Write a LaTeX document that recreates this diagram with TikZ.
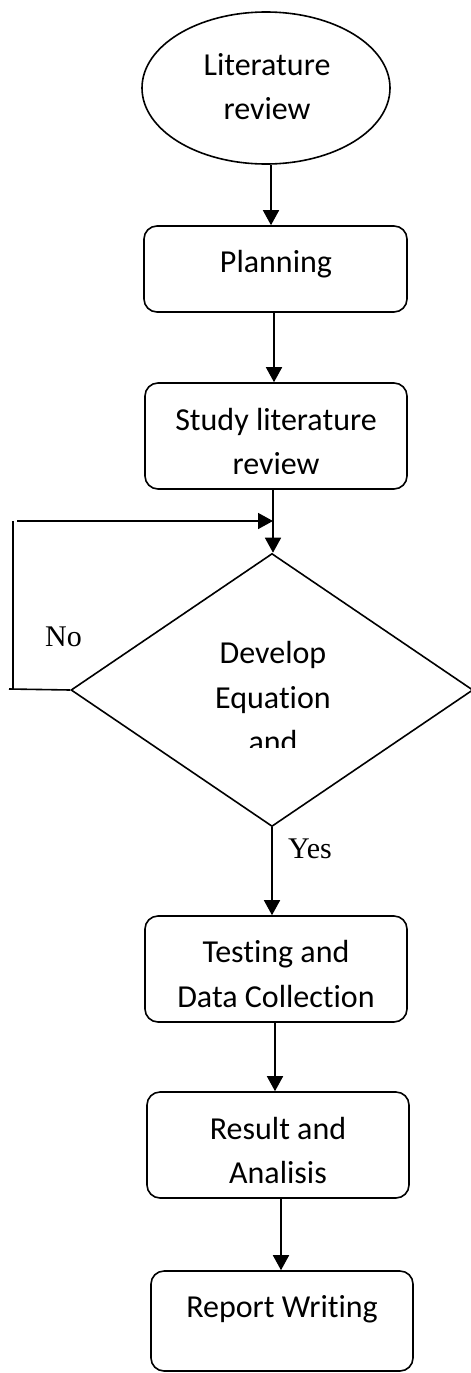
\documentclass[tikz,border=0pt]{standalone}
\usepackage{fontspec}
\setmainfont{Carlito}[Ligatures={NoCommon}]
\newfontfamily\serifl{Liberation Serif}
\usetikzlibrary{shapes.geometric,arrows.meta}
\begin{document}
\begin{tikzpicture}[x=1pt,y=-1pt,
  shp/.style={draw=black,line width=1.6pt,inner sep=0pt},
  rbox/.style={shp,rectangle,rounded corners=13pt},
  txt/.style={anchor=base,inner sep=0pt,font=\fontsize{32}{36}\selectfont},
  lbl/.style={anchor=base west,inner sep=0pt,font=\serifl\fontsize{30}{34}\selectfont},
  arr/.style={line width=1.6pt,-{Triangle[width=16pt,length=15pt]}},
  ln/.style={line width=1.6pt}]
\useasboundingbox (0,0) rectangle (471,1373);
% shapes
\node[shp,ellipse,minimum width=248pt,minimum height=152pt] (lit) at (266,88) {};
\node[rbox,minimum width=263pt,minimum height=86pt] (plan) at (275.5,269) {};
\node[rbox,minimum width=262pt,minimum height=106pt] (study) at (276,436) {};
\node[shp,diamond,minimum width=402pt,minimum height=273pt] (dia) at (272,690) {};
\node[rbox,minimum width=262pt,minimum height=106pt] (test) at (276,969) {};
\node[rbox,minimum width=262pt,minimum height=106pt] (res) at (278,1145) {};
\node[rbox,minimum width=262pt,minimum height=100pt] (rep) at (282,1321) {};
% texts
\node[txt] (t1) at (267,75) {Literature};
\node[txt] (t2) at (267,119) {review};
\node[txt] (t3) at (276,272) {Planning};
\node[txt] (t4) at (276,430) {Study literature};
\begin{scope}
\clip (0,0) rectangle (471,473);
\node[txt] (t5) at (276,474) {review};
\end{scope}
\node[txt] (t6) at (273,663) {Develop};
\node[txt] (t7) at (273,708) {Equation};
\begin{scope}
\clip (0,0) rectangle (471,747);
\node[txt] (t8) at (273,752) {and};
\end{scope}
\node[txt] (t9) at (276,962) {Testing and};
\node[txt] (t10) at (276,1007) {Data Collection};
\node[txt] (t11) at (278,1139) {Result and};
\node[txt] (t12) at (278,1183) {Analisis};
\node[txt] (t13) at (282,1317) {Report Writing};
\node[lbl] (no) at (45,646) {No};
\node[lbl] (yes) at (288,858) {Yes};
% connectors
\draw[arr] ([xshift=5pt]lit.south) -- ([xshift=5pt]lit.south |- plan.north);
\draw[arr] ([xshift=-1.5pt]plan.south) -- ([xshift=-1.5pt]plan.south |- study.north);
\draw[arr] ([xshift=-3pt]study.south) -- ([xshift=-3pt]study.south |- dia.north);
\draw[arr] (dia.south) -- (dia.south |- test.north);
\draw[arr] ([xshift=-1pt]test.south) -- ([xshift=-1pt]test.south |- res.north);
\draw[arr] ([xshift=3pt]res.south) -- ([xshift=3pt]res.south |- rep.north);
% No loop
\coordinate (l1) at (9,689);
\coordinate (l2) at (13,689);
\coordinate (l3) at (13,521);
\coordinate (l4) at (17,521);
\coordinate (l5) at (273,521);
\draw[ln] (dia.west) -- (l1);
\draw[ln] (l2) -- (l3);
\draw[arr] (l4) -- (l5);
\end{tikzpicture}
\end{document}
